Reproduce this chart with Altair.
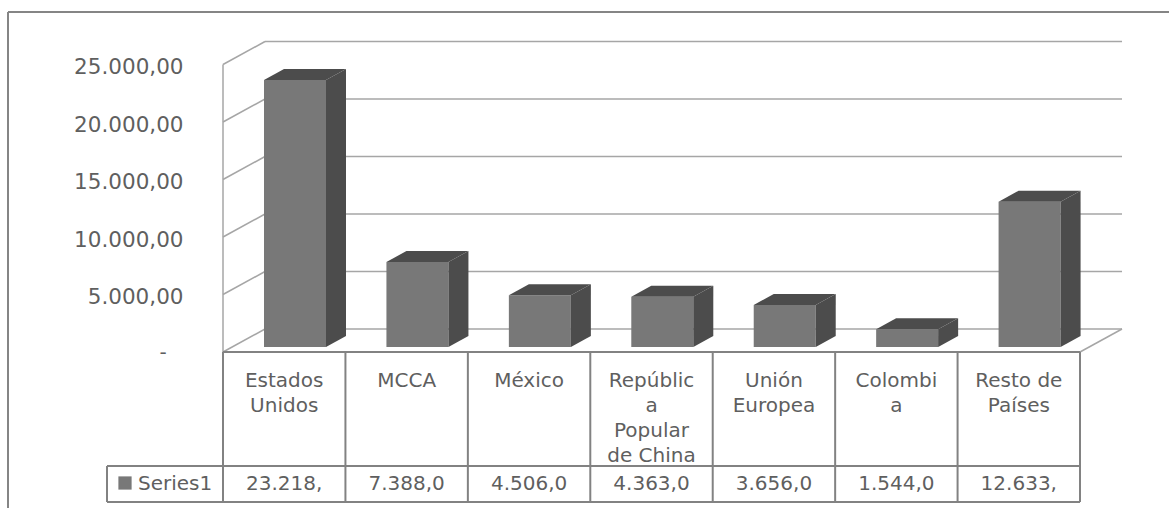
import altair as alt
import pandas as pd

# Values
categories = ["Estados Unidos", "MCCA", "México", "República Popular de China",
              "Unión Europea", "Colombia", "Resto de Países"]
values = [23218, 7388, 4506, 4363, 3656, 1544, 12633]
wrapped_labels = ["Estados\nUnidos", "MCCA", "México", "Repúblic\na\nPopular\nde China",
                  "Unión\nEuropea", "Colombi\na", "Resto de\nPaíses"]
cell_labels = ["23.218,", "7.388,0", "4.506,0", "4.363,0", "3.656,0", "1.544,0", "12.633,"]
series_name = "Series1"
y_ticks = [0, 5000, 10000, 15000, 20000, 25000]
zero_label = "-"

# Scale set-up: x is measured in table columns, y in chart value units
W, H = 1169, 508
COL_PX = 122.43
UNITS_PER_PX = 5000 / 57.5
ORIGIN_X, ORIGIN_Y = 223, 352
n = len(categories)


def col(px):
    return px / COL_PX


def val(px):
    return px * UNITS_PER_PX


x_scale = alt.Scale(domain=[-col(ORIGIN_X), col(W - ORIGIN_X)], nice=False, zero=False)
y_scale = alt.Scale(domain=[-val(H - ORIGIN_Y), val(ORIGIN_Y)], nice=False, zero=False)
X = alt.X("x:Q", scale=x_scale, axis=None)
Y = alt.Y("y:Q", scale=y_scale, title=None,
          axis=alt.Axis(values=y_ticks, orient="left", offset=-183, domain=False, ticks=False,
                        grid=False, labelPadding=0, labelOffset=3, labelFont="DejaVu Sans",
                        labelFontSize=21.5, labelColor="#5f5f5f",
                        labelExpr="datum.value === 0 ? '' : "
                                  "replace(format(datum.value, ',.0f'), ',', '.') + ',00'"))

WALL_DX, WALL_DY = col(42), val(23)
BAR_LEFT, BAR_W = col(41), col(62)
BAR_DX, BAR_DY, BAR_BASE = col(20), val(11), val(5)
TABLE_BOTTOM, TABLE_ROW = -val(150), -val(114)
SERIES_LEFT = -col(ORIGIN_X - 107)
FRONT, DARK = "#787878", "#4c4c4c"


def segments(rows, color, width):
    frame = pd.DataFrame(rows, columns=["x", "x2", "y", "y2"])
    return alt.Chart(frame).mark_rule(color=color, strokeWidth=width).encode(
        x=X, x2="x2:Q", y=Y, y2="y2:Q")


# Outer frame, 3D walls and floor
frame_lines = segments([[col(8 - ORIGIN_X), col(W - ORIGIN_X), val(ORIGIN_Y - 12), val(ORIGIN_Y - 12)],
                        [col(8 - ORIGIN_X), col(8 - ORIGIN_X), val(ORIGIN_Y - 12), -val(H - ORIGIN_Y)]],
                       "#858585", 2)
back_grid = segments([[WALL_DX, n + WALL_DX, t + WALL_DY, t + WALL_DY] for t in y_ticks], "#a6a6a6", 1.5)
side_grid = segments([[0, WALL_DX, t, t + WALL_DY] for t in y_ticks]
                     + [[0, 0, 0, y_ticks[-1]], [n, n + WALL_DX, 0, WALL_DY]], "#a6a6a6", 1.5)

# Bar faces
front_rows, side_rows, top_rows = [], [], []
for i, (c, v) in enumerate(zip(categories, values)):
    xl = i + BAR_LEFT
    xr = xl + BAR_W
    low = BAR_BASE
    top = BAR_BASE + v
    front_rows.append(dict(x=xl, x2=xr, y=low, y2=top))
    side_rows += [dict(c=c, x=xr, y=low, y2=top),
                  dict(c=c, x=xr + BAR_DX, y=low + BAR_DY, y2=top + BAR_DY)]
    top_rows += [dict(c=c, x=xl, y=top, y2=top),
                 dict(c=c, x=xl + BAR_DX, y=top, y2=top + BAR_DY),
                 dict(c=c, x=xr, y=top, y2=top + BAR_DY),
                 dict(c=c, x=xr + BAR_DX, y=top + BAR_DY, y2=top + BAR_DY)]

fronts = alt.Chart(pd.DataFrame(front_rows)).mark_rect(color=FRONT).encode(x=X, x2="x2:Q", y=Y, y2="y2:Q")
sides = alt.Chart(pd.DataFrame(side_rows)).mark_area(color=DARK, opacity=1).encode(
    x=X, y=Y, y2="y2:Q", detail="c:N")
tops = alt.Chart(pd.DataFrame(top_rows)).mark_area(color=DARK, opacity=1).encode(
    x=X, y=Y, y2="y2:Q", detail="c:N")

# Data table below the plot
table_lines = segments(
    [[0, n, 0, 0], [SERIES_LEFT, n, TABLE_ROW, TABLE_ROW], [SERIES_LEFT, n, TABLE_BOTTOM, TABLE_BOTTOM],
     [SERIES_LEFT, SERIES_LEFT, TABLE_ROW, TABLE_BOTTOM]]
    + [[i, i, 0, TABLE_BOTTOM] for i in range(n + 1)], "#828282", 2)

text_style = dict(font="DejaVu Sans", fontSize=20, color="#5f5f5f")
head_df = pd.DataFrame({"x": [i + 0.5 for i in range(n)], "y": [-val(29)] * n, "t": wrapped_labels})
head_text = alt.Chart(head_df).mark_text(lineBreak="\n", lineHeight=25, **text_style).encode(
    x=X, y=Y, text="t:N")
cell_df = pd.DataFrame({"x": [i + 0.5 for i in range(n)], "y": [-val(132)] * n, "t": cell_labels})
cell_text = alt.Chart(cell_df).mark_text(**text_style).encode(x=X, y=Y, text="t:N")

key_df = pd.DataFrame({"x": [col(125 - ORIGIN_X)], "y": [-val(131)]})
key = alt.Chart(key_df).mark_square(color=FRONT, size=175, opacity=1).encode(x=X, y=Y)
series_df = pd.DataFrame({"x": [col(138 - ORIGIN_X)], "y": [-val(132)], "t": [series_name]})
series_text = alt.Chart(series_df).mark_text(align="left", **text_style).encode(
    x=X, y=Y, text="t:N")

# The zero tick is written as an accounting dash, set in from the other labels
zero_df = pd.DataFrame({"x": [col(163 - ORIGIN_X)], "y": [-val(1)], "t": [zero_label]})
zero_text = alt.Chart(zero_df).mark_text(**text_style).encode(x=X, y=Y, text="t:N")

chart = alt.layer(
    frame_lines, back_grid, side_grid, fronts, sides, tops,
    table_lines, head_text, cell_text, key, series_text, zero_text,
).properties(width=W, height=H, padding=0, autosize=alt.AutoSizeParams(type="none"),
             background="white").configure_view(stroke=None)

chart.save("out.html", embed_options={"renderer": "svg", "actions": False})
